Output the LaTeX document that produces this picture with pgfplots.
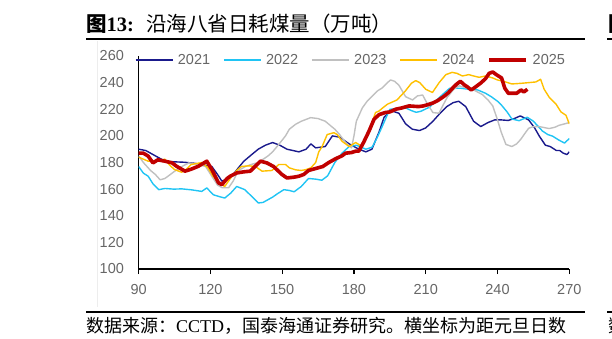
\documentclass[border=0pt]{standalone}
\usepackage{pgfplots}
\pgfplotsset{compat=1.18}
\usepackage{fontspec}
\setmainfont{Liberation Sans}
\newfontfamily\cjk{Noto Sans CJK SC}
\newfontfamily\tnr{Liberation Serif}
\definecolor{c21}{HTML}{1A1A8C}
\definecolor{c22}{HTML}{20C4F4}
\definecolor{c23}{HTML}{C0C0C0}
\definecolor{c24}{HTML}{FFC000}
\definecolor{c25}{HTML}{C00000}
\definecolor{tg}{HTML}{666666}
\begin{document}
\begin{tikzpicture}[x=1pt,y=1pt]
\useasboundingbox (0,0) rectangle (612,338);
% title
\node[anchor=west,inner sep=0pt] at (86,314) {\cjk\fontsize{20.5}{24}\selectfont \textbf{图}{\tnr\bfseries 13:}\hspace{12pt}沿海八省日耗煤量（万吨）};
\draw[line width=1.4pt] (86,299) -- (585,299);
\draw[line width=1.4pt] (86,26) -- (585,26);
\node[anchor=west,inner sep=0pt] at (86,12) {\cjk\fontsize{18}{20}\selectfont 数据来源：{\tnr CCTD}，国泰海通证券研究。横坐标为距元旦日数};
\draw[color=black!7,line width=0.8pt] (97,297) -- (97,31);
\begin{scope}
\clip (607,0) rectangle (612,338);
\node[anchor=west,inner sep=0pt] at (608,314) {\cjk\fontsize{20.5}{24}\selectfont \textbf{图}};
\node[anchor=west,inner sep=0pt] at (608,12) {\cjk\fontsize{18}{20}\selectfont 数};
\draw[line width=1.4pt] (607,299) -- (612,299);
\draw[line width=1.4pt] (607,26) -- (612,26);
\end{scope}
\begin{axis}[
  at={(138.6pt,69pt)}, anchor=south west,
  scale only axis, width=430.7pt, height=213pt,
  xmin=90, xmax=270, ymin=100, ymax=260,
  xtick={90,120,...,270}, ytick={100,120,...,260},
  axis x line*=bottom, axis y line*=left,
  axis line style={black,line width=1.5pt},
  x tick style={black,line width=1.2pt}, tick align=outside, major tick length=5pt,
  y tick style={draw=none},
  /pgf/number format/assume math mode=true,
  tick label style={font=\fontsize{14.5}{16}\selectfont, text=tg},
  yticklabel style={anchor=east,inner sep=0pt,xshift=-9.5pt},
  xticklabel style={anchor=north,inner sep=0pt,yshift=-10pt},
  legend columns=5,
  legend style={at={(axis description cs:-0.0084,0.981)}, anchor=west, draw=none, fill=none, inner sep=0pt, outer sep=0pt,
    font=\fontsize{14.5}{16}\selectfont, text=tg,
    nodes={inner sep=0pt},
    /tikz/every odd column/.append style={column sep=4.5pt},
    /tikz/every even column/.append style={column sep=13pt}},
  legend image code/.code={\draw[#1] (0pt,0pt) -- (37pt,0pt);},
  every axis plot/.append style={line join=round},
]
\addplot[c21,line width=1.4pt] table {
90 190
93 189
97 185
101 181
105 180.5
109 180.2
113 179.5
116.4 178.5
120.6 177
123 171
124.8 166
127.6 168
129.5 171
131.7 176
134 181
137.3 186
140 190
143 193
146 195
149 193
152 190
157 188
160 190
162 194
164 191
168 192
171 200
174 199
178 194
182 190
185 188
187.5 190
190.5 203
192.6 214
195.3 219
198.8 217
201.6 209
204.4 205
207.4 204
210 206
213 211
216 217
218.8 222
221.5 225
223.8 226
226.7 222
230 211
233 207
236 210
238.8 212
241.5 212
244.5 211.6
247 213
249.5 215
253 212
255.5 206
257.4 200
260 193
262 192
264.6 189
266 189
267.5 187
269 186
270 188
};
\addlegendentry{2021}
\addplot[c22,line width=1.4pt] table {
90 177
92 172
94 169.7
96 164
98.4 159.6
101 160.5
104.7 160
108 160.2
112 159.5
116.4 158.3
118.5 160.9
121.2 155.8
123.5 154.5
126 153.3
128.5 157
131 162
134.4 159.6
137 155
140 149.6
142 150
144 152
146 154
148 156.5
150.7 159.6
153 159
155 158
158 162
161 168
164 167.5
166.6 166.7
169 170
172 180
175 187
178 192
181 193
183 191.5
185 190
187.6 191.5
189.5 198
191.8 207
193.5 214
195 220
198.8 220.4
201.6 221
204 219
206 217.7
208 218.5
211.7 221.7
214 226
217 231
220 235.8
224.5 235.8
228 235
231.7 234.5
235 232
237.4 229.4
240 226
241.7 223
244 218
246 212.7
249 211.4
252.4 214
255 211
258.8 203.6
261 201
263 199.8
265.5 197
268 194.6
270 198
};
\addlegendentry{2022}
\addplot[c23,line width=1.4pt] table {
90 185
92 180
95 174
97 171
99 167
101 168
104 172
107 176
111 179.7
114 179
118 177
121.2 168
123 163
125 161
127.6 161
129.5 166
131.7 174
134.7 177
137 178.5
140 180
144 184.8
146 188
148.6 193.6
151.4 200
153 205
155.6 208.7
158 211
161.9 213.7
165 213
168 211
170 208
172 205
174 201
176.5 195
179 191
180 200
181 211
183.5 221
185.5 226
187.7 230
190 234
191.8 236
194 240
195.3 242
197 241
198.8 238
201.6 229.4
204.5 227
206.5 230
208.7 230.7
210.7 224
213 217.5
215.5 217
217.5 224
219 229
221.7 235
224 237.6
227 236
229.5 235
233.7 231
236 227
238 222.5
240 212
241.5 203
243.5 193.6
246 192
248 194
249.7 197.4
251.5 202
253 205.7
255 207
257.4 207
261.6 205.5
264 206.5
265.8 208
268 209
270 210
};
\addlegendentry{2023}
\addplot[c24,line width=1.4pt] table {
90 184
94 181
97 181
101 182.5
103 178
105 174.7
108 172.7
110 175
112 178.5
116.5 180
119 176
121 170
123.5 164.7
126 162
129 169.7
131 174
133 177
136 177.5
138.8 177
141.6 173.5
145.7 174
148.6 178.5
151.4 178.5
153 176
155.6 174.5
158 174
160 174.7
162 176
164 180
165.3 188
166.7 192
168.8 201
171.6 202.4
173 201
175 196
178 192
180.7 195
183.5 192
186.3 203.6
189 217.5
190.5 218.7
192 221
194 223.8
198 227
201.6 234
204 239.5
205.8 241.5
207.5 240
210 235
212.8 232.6
215.6 240
218.4 246
221 247.7
223 247
225.3 245
228 246
230 245
232.3 244
235 245
238 243.5
240 242
242.5 241
246 239
250 239.5
253 240
256 240.5
258 242.5
259.5 235
261.6 229
264.4 224
266.5 218
268.6 215.5
270 209
};
\addlegendentry{2024}
\addplot[c25,line width=3.6pt] table {
90 187
92 187
94 184.8
96 179.7
98 182
101 181
104 179.7
106 177
109.4 173.5
112 175
115 177.2
118.5 181
120.6 174.7
123.4 164.7
124.8 163.4
127 168
128.3 169.7
131.1 172.2
134 173
136.7 173.5
140.9 181
143.6 179.7
146.4 177
149.9 171
152 168.4
155 169
157 169.7
159 171
161 174
164 175.5
167 177
169.5 180
172.3 182.8
175 185
176.5 187
179 187.5
180.7 188.5
182 188.5
184 195
186.3 203.6
188.4 212.5
190.5 216
193 217.5
195 218
197.4 220
200 221
203 222.5
207 222
209 222.5
211 223.5
213 224.7
215 226.5
217.4 229.4
219.5 232.5
221.7 236.8
223 239
224.5 241
226 238.5
227.4 236.8
229 234.5
231 237
233 239.7
235 243
236.5 247
238 248
239.5 246
241.7 243.5
243 236
244.5 232
246 232
248 232
249.8 234.5
251 233
252.5 235
};
\addlegendentry{2025}
\end{axis}
\end{tikzpicture}
\end{document}
